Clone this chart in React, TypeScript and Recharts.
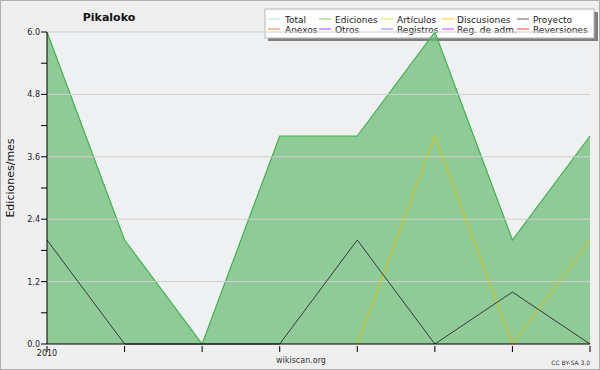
import React from "react";
import { ComposedChart, Area, Line, XAxis, YAxis, ReferenceLine } from "recharts";

const months = ["2010", "", "", "", "", "", "", ""];
const ediciones = [6, 2, 0, 4, 4, 6, 2, 4];
const discusiones = [null, null, null, null, 0, 4, 0, 2];
const proyecto = [2, 0, 0, 0, 2, 0, 1, 0];
const yTicks = [0, 0.6, 1.2, 1.8, 2.4, 3.0, 3.6, 4.2, 4.8, 5.4, 6.0];
const majorTicks = [1.2, 2.4, 3.6, 4.8, 6.0];

const legendItems = [
  { name: "Total", color: "#a8e4e4" },
  { name: "Ediciones", color: "#78c878" },
  { name: "Artículos", color: "#c8f040" },
  { name: "Discusiones", color: "#f0cc20" },
  { name: "Proyecto", color: "#606060" },
  { name: "Anexos", color: "#f08040" },
  { name: "Otros", color: "#a040f0" },
  { name: "Registros", color: "#8080ff" },
  { name: "Reg. de adm.", color: "#e040e0" },
  { name: "Reversiones", color: "#f04040" },
];

const data = months.map((m, i) => ({
  month: m,
  ediciones: ediciones[i],
  discusiones: discusiones[i],
  proyecto: proyecto[i],
}));

const font = "DejaVu Sans, sans-serif";
const legendCols = [268, 319, 381, 442, 517];
const legendTextCols = [285, 335, 397, 457, 533];

function YTick(props: any) {
  const { x, y, payload } = props;
  const major = Math.abs((payload.value / 1.2) - Math.round(payload.value / 1.2)) < 0.01;
  return (
    <g>
      <line x1={x - 6} x2={x} y1={y} y2={y} stroke="#000" />
      {major && (
        <text x={x - 7} y={y + 3} textAnchor="end" fontSize={8} fontFamily={font} fill="#222">
          {payload.value.toFixed(1)}
        </text>
      )}
    </g>
  );
}

function XTick(props: any) {
  const { x, y, payload } = props;
  return (
    <g>
      <line x1={x} x2={x} y1={y} y2={y + 6} stroke="#000" />
      <text x={x} y={y + 10} textAnchor="middle" fontSize={8} fontFamily={font} fill="#222">
        {payload.value}
      </text>
    </g>
  );
}

export default function App() {
  return (
    <div
      style={{
        position: "fixed",
        left: 0,
        top: 0,
        width: 600,
        height: 370,
        background: "#efefef",
        boxSizing: "border-box",
        border: "1px solid #b0b0b0",
        fontFamily: font,
      }}
    >
      <div style={{ position: "absolute", left: -1, top: -1 }}>
        <ComposedChart width={600} height={370} data={data} margin={{ top: 32, right: 10, bottom: 0, left: 0 }}>
          <rect x={47} y={32} width={543} height={312} fill="#eff0f2" />
          {majorTicks.map((v) => (
            <ReferenceLine key={v} y={v} stroke="#cfcfcf" strokeWidth={1} />
          ))}
          <XAxis
            dataKey="month"
            height={26}
            tickLine={false}
            tickSize={0}
            tick={<XTick />}
            axisLine={{ stroke: "#000" }}
            interval={0}
          />
          <YAxis
            width={47}
            domain={[0, 6]}
            ticks={yTicks}
            tickLine={false}
            tickSize={0}
            tickMargin={0}
            tick={<YTick />}
            axisLine={{ stroke: "#000" }}
            interval={0}
          />
          <Area
            type="linear"
            dataKey="ediciones"
            stroke="#3cb44a"
            strokeWidth={1.2}
            fill="#67bb71"
            fillOpacity={0.7}
            isAnimationActive={false}
          />
          <Line type="linear" dataKey="discusiones" stroke="#e8c000" strokeWidth={1} dot={false} isAnimationActive={false} />
          <Line type="linear" dataKey="proyecto" stroke="#3a3a3a" strokeWidth={1} dot={false} isAnimationActive={false} />
          <text x={109} y={21} textAnchor="middle" fontSize={11} fontWeight="bold" fontFamily={font} fill="#111">
            Pikaloko
          </text>
          <text
            x={14}
            y={178}
            textAnchor="middle"
            fontSize={11}
            fontFamily={font}
            fill="#111"
            transform="rotate(-90 14 178)"
          >
            Ediciones/mes
          </text>
          <text x={301} y={363} textAnchor="middle" fontSize={8} fontFamily={font} fill="#333">
            wikiscan.org
          </text>
          <text x={590} y={365} textAnchor="end" fontSize={6} fontFamily={font} fill="#333">
            CC BY-SA 3.0
          </text>
          <rect x={268} y={12} width={330} height={29} fill="#808080" />
          <rect x={265} y={9} width={329} height={29} fill="#fff" stroke="#b8b8b8" />
          {legendItems.map((item, i) => {
            const col = i % 5;
            const row = Math.floor(i / 5);
            const cy = 19 + row * 10;
            return (
              <g key={item.name}>
                <line x1={legendCols[col]} x2={legendCols[col] + 12} y1={cy} y2={cy} stroke={item.color} strokeWidth={1} />
                <text x={legendTextCols[col]} y={cy + 4} fontSize={9} fontFamily={font} fill="#222">
                  {item.name}
                </text>
              </g>
            );
          })}
        </ComposedChart>
      </div>
    </div>
  );
}
